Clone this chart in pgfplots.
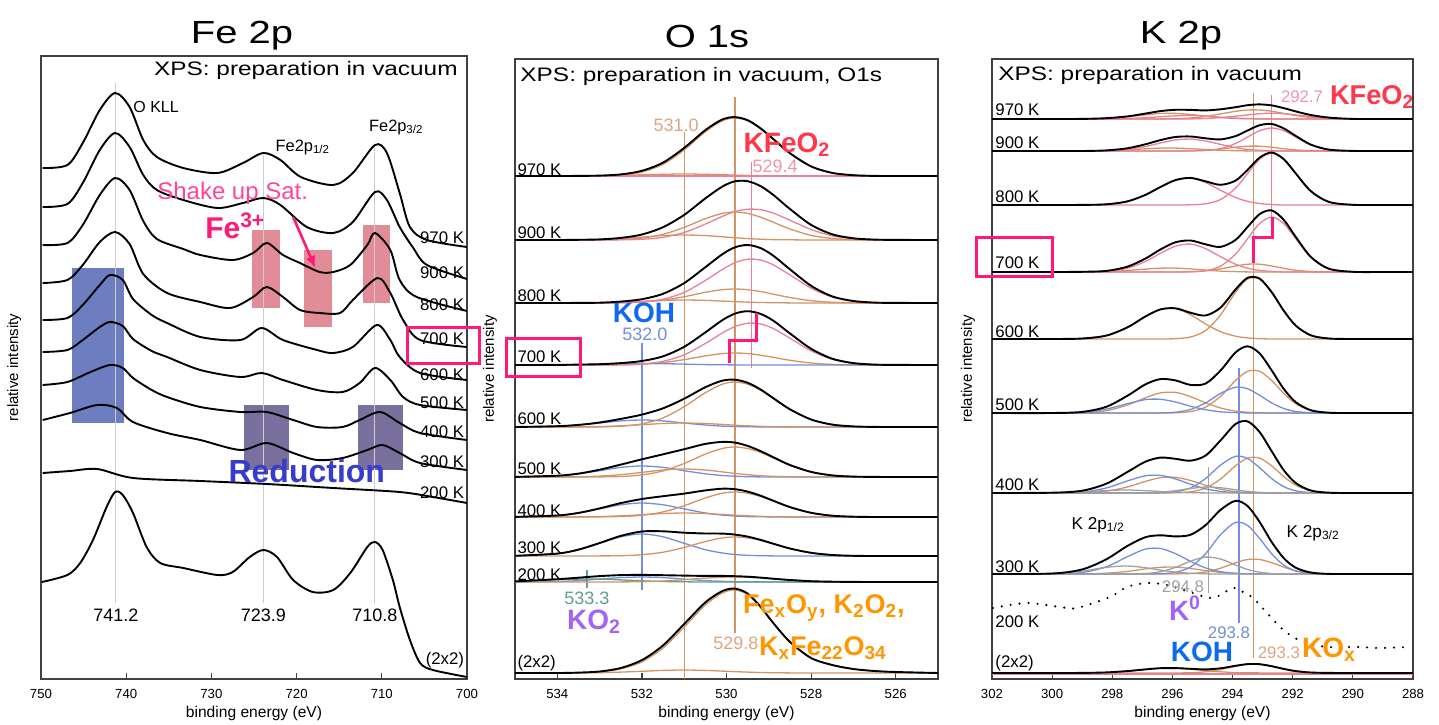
\documentclass[border=0pt]{standalone}
\usepackage{fontspec}
\setmainfont{Liberation Sans}
\usepackage{graphicx}
\usepackage{pgfplots}
\usepackage{pgfplotstable}
\pgfplotsset{compat=1.18}
\usetikzlibrary{arrows.meta}

\definecolor{tanc}{RGB}{210,148,102}
\definecolor{pinkc}{RGB}{234,128,148}
\definecolor{bluec}{RGB}{112,142,220}
\definecolor{grayc}{RGB}{160,160,160}
\definecolor{tealc}{RGB}{95,160,140}
\definecolor{vgray}{RGB}{205,205,205}
\definecolor{mag}{RGB}{255,25,120}
\definecolor{shake}{RGB}{255,70,150}
\definecolor{redt}{RGB}{255,55,75}
\definecolor{bluet}{RGB}{15,105,240}
\definecolor{purplet}{RGB}{160,100,250}
\definecolor{orangt}{RGB}{255,150,0}
\definecolor{redu}{RGB}{55,60,205}
\definecolor{boxpink}{RGB}{226,140,152}
\definecolor{boxblue}{RGB}{108,126,192}
\definecolor{boxpurp}{RGB}{122,112,158}
\definecolor{tanlab}{RGB}{220,165,130}
\definecolor{pinklab}{RGB}{238,150,165}

\newcommand{\fs}[1]{\fontsize{#1}{#1}\selectfont}
\newcommand{\W}[1]{\scalebox{1.25}[1]{#1}}

\tikzset{L/.style={inner sep=0pt}, T/.style={inner sep=0pt, font=\fs{8.4}}}
\pgfplotsset{
  xps/.style={scale only axis, x dir=reverse, clip=false, anchor=center,
    ymin=0, ytick=\empty, xtick pos=bottom, xtick align=inside,
    major tick length=3pt,
    axis line style={black!75, line width=0.9pt},
    tick style={black!75, line width=0.6pt},
    x tick label style={font=\fs{6.6}, anchor=center, yshift=-7.5pt},
    /pgf/number format/assume math mode=true,
    /pgf/number format/1000 sep={},
    xlabel style={font=\fs{7.8}, at={(axis description cs:0.5,0)}, anchor=center, yshift=-17pt},
    ylabel style={font=\fs{7.5}, anchor=center},
  },
  tot/.style={smooth, black, line width=0.95pt},
  comp/.style={smooth, line width=0.65pt},
}

% ---------- O 1s tables ----------
\pgfplotstableread{
be T A B
525 503 503 503
526 503 503 503
526.5 503.1 503.1 503
527 503.8 503.8 503
527.5 506.1 506.1 503
528 512.6 512.6 503
528.5 525.8 525.7 503.1
528.9 540.2 540 503.2
529.2 550.8 550.5 503.3
529.5 558.8 558.2 503.6
529.8 561.9 561 503.9
530.1 559.5 558.2 504.3
530.5 548.9 547.2 504.7
531 531.1 529.1 505
531.5 516.4 514.7 504.7
532 508.2 507 504.2
532.5 504.6 504 503.6
533 503.4 503.2 503.2
533.5 503.1 503 503.1
534 503 503 503
535 503 503 503
}\Oa
\pgfplotstableread{
be T A B C
525 439 439 439 439
526 439.1 439 439 439.1
526.5 439.4 439.1 439 439.3
527 440.7 439.4 439 440.3
527.5 444.7 440.5 439 443.2
528 454.1 443.6 439 449.5
528.5 470 450 439.2 458.8
528.9 484.3 456.9 439.4 466
529.2 493 461.9 439.8 469.3
529.5 497.8 465.6 440.4 469.8
529.8 497.7 467 441.3 467.4
530.1 492.4 465.6 442.2 462.6
530.5 480.6 460.3 443.4 454.9
531 464.1 451.6 444 446.5
531.5 451.8 444.7 443.4 441.7
532 444.5 440.9 441.9 439.7
532.5 441.1 439.5 440.4 439.2
533 439.6 439.1 439.5 439
533.5 439.2 439 439.2 439
534 439 439 439 439
535 439 439 439 439
}\Ob
\pgfplotstableread{
be T A B C
525 376 376 376 376
526 376.1 376 376 376.1
526.5 376.4 376 376 376.4
527 378 376.2 376 377.8
527.5 382.6 376.7 376 381.9
528 393.2 378.3 376 390.9
528.5 409.7 381.5 376.1 404.1
528.9 423.5 384.9 376.3 414.3
529.2 431 387.5 376.5 419
529.5 434 389.3 376.9 419.8
529.8 431.7 390 377.4 416.3
530.1 424.7 389.3 377.9 409.5
530.5 411.8 386.7 378.6 398.5
531 395.9 382.3 379 386.6
531.5 385.2 378.8 378.6 379.8
532 379.8 377 377.7 377.1
532.5 377.4 376.3 376.9 376.2
533 376.3 376 376.3 376
533.5 376.1 376 376.1 376
534 376 376 376 376
535 376 376 376 376
}\Oc
\pgfplotstableread{
be T A C D
525 314 314 314 314
526 314.1 314 314.1 314
526.5 314.4 314 314.4 314
527 315.9 314.2 315.7 314
527.5 320.3 314.6 319.7 314
528 330.2 316 328.2 314
528.5 345.6 318.7 340.8 314
528.9 358.5 321.7 350.6 314
529.2 365.2 323.8 355.1 314
529.5 367.8 325.4 355.8 314
529.8 365.4 326 352.4 314.1
530.1 358.8 325.4 346 314.2
530.5 346.6 323.1 335.5 314.4
531 332.2 319.4 324.2 314.9
531.5 322.7 316.4 317.7 315.3
532 318 314.8 315 315.5
532.5 315.9 314.2 314.2 315.3
533 314.8 314 314 314.9
533.5 314.4 314 314 314.4
534 314.1 314 314 314.2
535 314 314 314 314
}\Od
\pgfplotstableread{
be T A B D
525 252 252 252 252
526 252 252 252 252
526.5 252.1 252.1 252 252
527 252.6 252.6 252 252
527.5 254.4 254.4 252 252
528 259.5 259.5 252 252
528.5 269.7 269.6 252.1 252
528.9 281 280.7 252.3 252
529.2 289.7 288.9 252.7 252.1
529.5 296.2 294.8 253.2 252.2
529.8 299.3 297 253.8 252.5
530.1 298.3 294.8 254.6 252.9
530.5 291.8 286.3 255.5 254
531 280.3 272.3 256 256
531.5 270.7 261.1 255.5 258.1
532 264.4 255.1 254.3 259
532.5 260.1 252.8 253.2 258.1
533 256.5 252.1 252.4 256
533.5 254.1 252 252.1 254
534 252.8 252 252 252.8
535 252 252 252 252
}\Oe
\pgfplotstableread{
be T A B D
525 202 202 202 202
526 202 202 202 202
526.5 202.1 202.1 202 202
527 202.4 202.4 202 202
527.5 203.6 203.6 202 202
528 207.1 207 202.1 202
528.5 214 213.8 202.2 202
528.9 221.9 221.1 202.7 202.1
529.2 228 226.6 203.3 202.1
529.5 233.1 230.5 204.3 202.3
529.8 236.4 232 205.6 202.8
530.1 237.1 230.5 207.1 203.5
530.5 235.1 224.9 209 205.2
531 229.8 215.5 210 208.3
531.5 224.7 208.1 209 211.6
532 219.7 204.1 206.6 213
532.5 214.4 202.5 204.3 211.6
533 209.3 202.1 202.9 208.3
533.5 205.4 202 202.2 205.2
534 203.3 202 202.1 203.2
535 202.1 202 202 202.1
}\Of
\pgfplotstableread{
be T A B D
525 162 162 162 162
526 162 162 162 162
526.5 162 162 162 162
527 162.3 162.3 162 162
527.5 163.3 163.3 162 162
528 166.2 166.2 162 162
528.5 171.9 171.8 162.1 162
528.9 178.4 178 162.3 162.1
529.2 183.4 182.5 162.7 162.2
529.5 187.4 185.8 163.2 162.4
529.8 189.8 187 163.8 163
530.1 190.3 185.8 164.6 163.9
530.5 188.6 181.1 165.5 166
531 185.4 173.3 166 170.1
531.5 182.8 167.1 165.5 174.2
532 180 163.7 164.3 176
532.5 175.9 162.5 163.2 174.2
533 170.6 162.1 162.4 170.1
533.5 166.1 162 162.1 166
534 163.5 162 162 163.5
535 162.1 162 162 162.1
}\Og
\pgfplotstableread{
be T A D
525 123 123 123
526 123 123 123
526.5 123 123 123
527 123.2 123.2 123
527.5 124 124 123
528 126.2 126.2 123
528.5 130.5 130.4 123
528.9 135.4 135.1 123.1
529.2 139.2 138.6 123.3
529.5 142.4 141.1 123.7
529.8 144.4 142 124.5
530.1 145.4 141.1 126
530.5 145.5 137.5 129.3
531 146.3 131.6 135.7
531.5 147.7 126.8 142.2
532 147.5 124.3 145
532.5 143.1 123.3 142.2
533 136 123.1 135.7
533.5 129.4 123 129.3
534 125.4 123 125.4
535 123.2 123 123.2
}\Oh
\pgfplotstableread{
be T A D Q
525 97 97 97 97
526 97 97 97 97
526.5 97 97 97 97
527 97.1 97.1 97 97
527.5 97.3 97.3 97 97
528 97.8 97.8 97 97
528.5 99 99 97 97
528.9 100.3 100.2 97 97
529.2 101.4 101.1 97.1 97
529.5 102.3 101.8 97.2 97
529.8 102.8 102 97.3 97
530.1 103.1 101.8 97.7 97
530.5 103.1 100.8 98.4 97
531 103.4 99.3 99.9 97.2
531.5 103.8 98 101.4 97.5
532 104.1 97.3 102 98.2
532.5 103.9 97.1 101.4 99.1
533 102.9 97 99.9 99.9
533.5 101.3 97 98.4 99.9
534 99.8 97 97.5 99.3
535 97.6 97 97 97.6
}\Oi
\pgfplotstableread{
be T A B
525 6 6 6
526 7 7 6
526.5 8 8 6
527 10 10 6
527.5 14 14 6
528 21 21 6
528.5 37.1 37 6.1
528.9 56.3 56 6.3
529.2 72.5 72 6.5
529.5 85.4 84.5 6.9
529.8 90.4 89 7.35
530.1 87.9 86 7.9
530.5 76.6 74 8.6
531 55 52 9
531.5 33.6 31 8.6
532 18.9 17.2 7.7
532.5 11 10.1 6.9
533 7.5 7.2 6.3
533.5 6.4 6.3 6.1
534 6 6 6
535 6 6 6
}\Oj

% ---------- K 2p tables ----------
\pgfplotstableread{
be T T3 P3 T1 P1
288 560 560 560 560 560
289 560 560 560 560 560
290 560.1 560 560.1 560 560
290.8 561.4 560.5 560.9 560 560
291.4 564 561.5 562.5 560 560
291.9 567.6 563.5 564.1 560 560
292.3 570.9 565.6 565.3 560 560
292.7 573.6 567.7 565.8 560 560.1
293.1 574.6 569 565.3 560.1 560.2
293.5 573.8 569 564.1 560.2 560.5
293.9 571.8 567.7 562.8 560.5 560.9
294.4 569.7 565.1 561.4 561.4 561.8
294.9 568.6 562.5 560.5 562.8 562.9
295.4 569.1 561 560.1 564.5 563.5
295.9 569.2 560.3 560 565.6 563.2
296.4 567.9 560.1 560 565.5 562.3
296.9 565.4 560 560 564.1 561.3
297.5 562.6 560 560 562.2 560.5
298.2 560.8 560 560 560.7 560.1
299 560.1 560 560 560.1 560
300 560 560 560 560 560
302 560 560 560 560 560
}\Ka
\pgfplotstableread{
be T P3 P1 T3 T1
288 528 528 528 528 528
289 528 528 528 528 528
290 528.1 528.1 528 528 528
290.8 529.4 529.4 528 528 528
291.4 534.4 534.1 528 528.3 528
291.9 543.1 542 528 529.1 528
292.3 550.6 548.3 528 530.3 528
292.7 555 551 528.2 531.8 528
293.1 553.8 548.3 528.7 532.8 528
293.5 548.5 542 529.6 532.8 528.1
293.9 542.9 535.5 531.3 531.8 528.3
294.4 539.6 530.4 534.6 529.9 528.7
294.9 540.7 528.5 538 528.7 529.5
295.4 542.5 528.1 539.9 528.2 530.3
295.9 542 528 539.1 528 530.9
296.4 538.9 528 536 528 530.9
296.9 534.7 528 532.5 528 530.2
297.5 530.7 528 529.6 528 529.1
298.2 528.6 528 528.3 528 528.3
299 528 528 528 528 528
300 528 528 528 528 528
302 528 528 528 528 528
}\Kb
\pgfplotstableread{
be T P3 P1
288 474 474 474
289 474 474 474
290 474.2 474.2 474
290.8 477.1 477.1 474
291.4 487.9 487.9 474
291.9 505.6 505.6 474
292.3 519.9 519.9 474
292.7 526.5 526 474.5
293.1 521.4 519.9 475.5
293.5 509.2 505.6 477.6
293.9 498.4 490.9 481.5
294.4 494.2 479.5 488.7
294.9 497.7 475.2 496.5
295.4 501.1 474.2 500.9
295.9 498.9 474 498.9
296.4 492 474 492
296.9 484.1 474 484.1
297.5 477.6 474 477.6
298.2 474.7 474 474.7
299 474.1 474 474.1
300 474 474 474
302 474 474 474
}\Kc
\pgfplotstableread{
be T P3 P1 T3 T1
288 407 407 407 407 407
289 407 407 407 407 407
290 407.2 407.2 407 407 407
290.8 410.3 410.2 407 407.1 407
291.4 422.2 421.7 407 407.5 407
291.9 442.1 440.4 407 408.7 407
292.3 459.2 455.5 407 410.7 407
292.7 468.6 462 407.6 413 407
293.1 464.9 455.5 408.6 414.8 407
293.5 452.1 440.4 410.8 414.8 407.1
293.9 439.1 424.9 414.8 413 407.4
294.4 432.1 412.8 422.3 410.1 407.9
294.9 434.7 408.3 430.4 408.1 408.9
295.4 438.5 407.2 434.9 407.3 410.1
295.9 436.7 407 432.8 407 410.9
296.4 429.5 407 425.7 407 410.8
296.9 420.4 407 417.5 407 409.9
297.5 412.3 407 410.8 407 408.5
298.2 408.1 407 407.7 407 407.4
299 407.2 407 407.1 407 407.1
300 407 407 407 407 407
302 407 407 407 407 407
}\Kd
\pgfplotstableread{
be T T3 T1
288 340 340 340
289 340 340 340
290 340 340 340
290.8 340.5 340.5 340
291.4 343.7 343.7 340
291.9 353.4 353.4 340
292.3 368.4 368.4 340
292.7 386.8 386.8 340
293.1 400.4 400.1 340.3
293.5 401.2 400.1 341.1
293.9 389.6 386.8 342.8
294.4 371.4 364.1 347.3
294.9 363.5 348.4 355.1
295.4 366.3 342 364.3
295.9 370.7 340.3 370.4
296.4 369.6 340 369.6
296.9 362.5 340 362.5
297.5 351.6 340 351.6
298.2 343.4 340 343.4
299 340.5 340 340.5
300 340 340 340
302 340 340 340
}\Ke
\pgfplotstableread{
be T T3 B3 T1 B1
288 266 266 266 266 266
289 266 266 266 266 266
290 266 266 266 266 266
290.8 266.3 266.3 266 266 266
291.4 268.8 268.5 266.3 266 266
291.9 276.8 275.3 267.5 266 266
292.3 290.2 285.7 270.5 266 266
292.7 308.6 298.5 276.1 266 266
293.1 325.6 307.7 283.7 266.2 266
293.5 332.7 307.7 290.2 266.7 266.1
293.9 326.6 298.5 291.8 267.9 266.4
294.4 308.5 282.7 285.6 271 267.2
294.9 295.4 271.8 276.1 276.2 269.3
295.4 294.1 267.4 269.5 282.4 272.8
295.9 298.6 266.2 266.8 286.6 277
296.4 299.9 266 266.1 286.1 279.7
296.9 294.6 266 266 281.2 279.4
297.5 283.2 266 266 273.9 275.3
298.2 272.2 266 266 268.3 269.9
299 267.1 266 266 266.3 266.8
300 266 266 266 266 266
302 266 266 266 266 266
}\Kf
\pgfplotstableread{
be T B3 T3 B1 T1 G3 G1
288 186 186 186 186 186 186 186
289 186 186 186 186 186 186 186
290 186 186 186 186 186 186 186
290.8 186.3 186 186.3 186 186 186 186
291.4 188.5 186.4 188.1 186 186 186 186
291.9 196 188.2 193.8 186 186 186 186
292.3 208.9 192.4 202.5 186 186 186 186
292.7 227.8 200.4 213.2 186 186 186.2 186
293.1 246.9 211.2 220.9 186 186.2 186.6 186
293.5 257.6 220.5 220.9 186.1 186.5 187.6 186
293.9 255 222.7 213.2 186.5 187.4 189.2 186
294.4 238.6 213.9 200 187.6 189.8 191.3 186
294.9 223.4 200.4 190.9 190.2 193.8 192 186.1
295.4 218.3 191 187.2 194.8 198.5 190.5 186.3
295.9 220.2 187.2 186.2 200.1 201.7 188.3 186.7
296.4 221.4 186.2 186 203.6 201.3 186.8 187.5
296.9 217.3 186 186 203.2 197.6 186.2 188.3
297.5 207 186 186 198 192 186 189
298.2 195.3 186 186 191 187.8 186 188.5
299 188.3 186 186 187 186.2 186 187.1
300 186.3 186 186 186.1 186 186 186.2
302 186 186 186 186 186 186 186
}\Kg
\pgfplotstableread{
be T B3 T3 G3 B1 T1 G1
288 105 105 105 105 105 105 105
289 105 105 105 105 105 105 105
290 105 105 105 105 105 105 105
290.8 105.1 105 105.1 105 105 105 105
291.4 106.5 105.6 105.9 105 105 105 105
291.9 111.3 108.1 108.2 105 105 105 105
292.3 120.9 113.9 111.9 105.1 105 105 105
292.7 137 125.2 116.3 105.5 105 105 105
293.1 157 140.5 119.5 106.8 105.1 105.1 105
293.5 172.9 153.5 119.5 109.5 105.2 105.2 105
293.9 178.2 156.6 116.3 114 105.7 105.6 105
294.4 169.1 144.3 110.8 120 107.3 106.7 105
294.9 153.8 125.2 107 121.9 111.1 108.4 105.2
295.4 144.2 112 105.5 117.8 117.7 110.5 105.7
295.9 142.6 106.7 105.1 111.6 125.4 111.9 106.9
296.4 143.7 105.3 105 107.3 130.5 111.7 108.9
296.9 141.8 105 105 105.5 129.9 110.1 111.3
297.5 133 105 105 105.1 122.3 107.6 113
298.2 119.7 105 105 105 112.2 105.8 111.7
299 109.6 105 105 105 106.5 105.1 108
300 105.5 105 105 105 105.1 105 105.4
302 105 105 105 105 105 105 105
}\Kh
\pgfplotstableread{
be T T3 T1
288 6 6 6
289 6 6 6
290 6 6 6
290.8 6.1 6.1 6
291.4 6.5 6.5 6
291.9 7.9 7.9 6
292.3 10.1 10.1 6
292.7 12.8 12.8 6
293.1 14.8 14.7 6.1
293.5 14.9 14.7 6.2
293.9 13.2 12.8 6.4
294.4 10.7 9.5 7.2
294.9 9.6 7.2 8.4
295.4 10.2 6.3 9.9
295.9 10.9 6 10.9
296.4 10.8 6 10.8
296.9 9.6 6 9.6
297.5 7.9 6 7.9
298.2 6.6 6 6.6
299 6.1 6 6.1
300 6 6 6
302 6 6 6
}\Kj

\begin{document}
\begin{tikzpicture}[x=0.5pt,y=0.5pt]
\path[use as bounding box] (0,0) rectangle (1439,724);

% titles
\node[L,font=\fs{16}] at (242,688) {\W{Fe 2p}};
\node[L,font=\fs{16}] at (707,688) {\W{O 1s}};
\node[L,font=\fs{16}] at (1181,688) {\W{K 2p}};

% ================= Fe 2p =================
\begin{axis}[xps, at={(127pt,178.25pt)}, width=213pt, height=311.5pt,
  xmin=700, xmax=750, ymax=623, xtick={700,710,720,730,740,750},
  xlabel={binding energy (eV)}, ylabel={relative intensity},
  ylabel style={at={(axis description cs:-0.063,0.5)}}]
\fill[boxblue] (axis cs:746.4,411) rectangle (axis cs:740.3,256);
\fill[boxpink] (axis cs:725.2,449) rectangle (axis cs:721.95,371);
\fill[boxpink] (axis cs:719.1,429) rectangle (axis cs:715.8,352);
\fill[boxpink] (axis cs:712.2,454) rectangle (axis cs:709.0,376);
\fill[boxpurp] (axis cs:726.2,274) rectangle (axis cs:720.9,209);
\fill[boxpurp] (axis cs:712.8,274) rectangle (axis cs:707.5,209);
\draw[vgray, line width=0.5pt] (axis cs:741.2,76) -- (axis cs:741.2,596);
\draw[vgray, line width=0.5pt] (axis cs:723.9,76) -- (axis cs:723.9,524);
\draw[vgray, line width=0.5pt] (axis cs:710.8,76) -- (axis cs:710.8,532);

\addplot[tot] coordinates {(749.8,511) (746.9,514) (745.1,536) (743.1,569) (741.3,586) (739.6,572) (738.0,539) (736.4,522) (733.3,511) (729.3,506) (726.3,516) (723.9,526) (721.9,519) (719.5,502) (715.7,494) (713.4,506) (710.8,534) (709.4,526) (707.9,486) (706.7,452) (704.7,439) (700.0,432)};
\addplot[tot] coordinates {(749.8,472) (746.9,475) (745.1,496) (743.1,529) (741.3,546) (739.6,532) (738.0,504) (736.4,489) (733.3,479) (729.3,471) (726.3,476) (723.9,481) (721.9,474) (718.8,452) (715.7,446) (713.4,457) (710.8,487) (709.4,479) (707.9,452) (706.3,431) (704.7,414) (700.0,400)};
\addplot[tot] coordinates {(749.8,434) (746.9,436) (745.1,454) (743.1,484) (741.3,501) (739.6,489) (738.0,458) (736.4,440) (733.3,430) (731.3,424) (727.5,419) (725.1,426) (723.5,436) (721.6,424) (719.6,416) (717.3,407) (715.7,407) (713.7,414) (711.7,434) (710.8,446) (709.0,429) (707.9,399) (705.9,382) (700.0,368)};
\addplot[tot] coordinates {(749.8,396) (746.9,399) (745.1,414) (743.1,437) (741.3,447) (739.6,435) (738.0,405) (735.2,386) (731.3,377) (727.8,371) (725.1,382) (723.5,392) (721.6,382) (719.6,369) (717.3,366) (714.9,366) (713.4,379) (710.5,401) (709.0,386) (707.5,359) (705.5,339) (700.0,332)};
\addplot[tot] coordinates {(749.8,359) (746.9,361) (745.1,374) (743.1,394) (741.9,404) (740.4,399) (739.2,380) (737.0,364) (735.2,356) (731.3,342) (726.6,339) (724.1,351) (721.6,339) (717.6,329) (715.7,326) (713.4,332) (710.6,354) (709.0,339) (707.9,322) (705.5,306) (700.0,299)};
\addplot[tot] coordinates {(749.8,327) (746.9,329) (745.1,339) (743.1,352) (741.9,357) (740.4,353) (739.2,340) (737.0,328) (735.2,322) (731.3,309) (726.6,302) (724.1,306) (721.6,299) (717.6,289) (714.6,287) (712.6,296) (710.8,311) (709.0,299) (707.5,282) (705.5,274) (700.0,269)};
\addplot[tot] coordinates {(749.8,294) (746.9,297) (744.2,307) (741.9,314) (740.4,311) (739.2,301) (737.0,289) (735.2,282) (731.3,272) (726.6,267) (723.5,267) (720.4,259) (717.6,252) (714.6,252) (712.6,259) (710.2,267) (707.9,256) (705.5,246) (700.0,239)};
\addplot[tot] coordinates {(749.8,259) (746.6,266) (743.4,274) (741.1,271) (739.2,257) (735.2,246) (731.3,239) (726.6,229) (723.5,236) (720.4,226) (717.6,219) (714.6,221) (711.7,229) (709.9,234) (707.9,226) (705.5,216) (700.0,209)};
\addplot[tot] coordinates {(749.8,206) (746.6,208) (743.4,210) (739.2,201) (731.3,198) (723.5,195) (715.7,191) (707.9,187) (704.0,182) (700.0,176)};
\addplot[tot] coordinates {(749.9,97) (746.9,104) (745.4,116) (743.9,139) (742.3,172) (741.3,187) (740.4,184) (739.2,166) (737.6,132) (736.0,116) (733.3,111) (729.3,104) (727.5,107) (725.5,122) (723.9,129) (722.3,122) (720.4,99) (718.1,87) (715.7,89) (713.7,106) (711.7,132) (710.8,137) (709.9,129) (708.7,99) (707.9,72) (706.7,39) (705.5,16) (704.0,9) (700.0,2)};

\node[L,font=\fs{9.75},anchor=east] at (axis cs:701.05,609) {\W{XPS: preparation in vacuum}};
\node[L,font=\fs{8},anchor=west] at (axis cs:739.2,572) {O KLL};
\node[L,font=\fs{8.2},anchor=west] at (axis cs:722.5,532) {Fe2p\textsubscript{1/2}};
\node[L,font=\fs{8.2}] at (axis cs:708.3,552) {Fe2p\textsubscript{3/2}};
\node[L,font=\fs{12},text=shake] at (axis cs:727.5,486) {Shake up Sat.};
\node[L,font=\bfseries\fs{15},text=mag] at (axis cs:727.2,453) {Fe\textsuperscript{3+}};
\draw[mag, line width=1.3pt, -{Latex[length=6pt,width=5pt]}] (axis cs:720.4,462) -- (axis cs:717.8,411);
\node[L,font=\bfseries\fs{16},text=redu] at (axis cs:718.8,208) {Reduction};
\node[T,anchor=east] at (axis cs:700.3,441) {970 K};
\node[T,anchor=east] at (axis cs:700.3,406) {900 K};
\node[T,anchor=east] at (axis cs:700.3,374) {800 K};
\node[T,anchor=east] at (axis cs:700.3,340) {700 K};
\node[T,anchor=east] at (axis cs:700.3,304) {600 K};
\node[T,anchor=east] at (axis cs:700.3,276) {500 K};
\node[T,anchor=east] at (axis cs:700.3,247) {400 K};
\node[T,anchor=east] at (axis cs:700.3,217) {300 K};
\node[T,anchor=east] at (axis cs:700.3,186) {200 K};
\node[T,anchor=east] at (axis cs:700.3,19) {(2x2)};
\draw[mag, line width=1.5pt] (axis cs:707,352) rectangle (axis cs:698.5,316);
\node[L,font=\fs{9}] at (axis cs:741.2,64) {741.2};
\node[L,font=\fs{9}] at (axis cs:723.9,64) {723.9};
\node[L,font=\fs{9}] at (axis cs:710.8,64) {710.8};
\end{axis}

% ================= O 1s =================
\begin{axis}[xps, at={(363.25pt,177.5pt)}, width=211.5pt, height=310pt,
  xmin=525, xmax=535, ymax=620, xtick={526,528,530,532,534},
  xlabel={binding energy (eV)}, ylabel={relative intensity},
  ylabel style={at={(axis description cs:-0.059,0.5)}}]
\draw[tanc, line width=0.7pt] (axis cs:531.0,0) -- (axis cs:531.0,547);
\draw[tanc, line width=0.7pt] (axis cs:529.8,46) -- (axis cs:529.8,582);
\draw[pinkc, line width=0.6pt] (axis cs:529.4,311) -- (axis cs:529.4,517);
\draw[bluec, line width=0.7pt] (axis cs:532.0,89) -- (axis cs:532.0,336);
\draw[tealc, line width=0.7pt] (axis cs:533.3,91) -- (axis cs:533.3,109);

% 970 K
\addplot[comp,tanc] table[x=be,y=B] {\Oa};
\addplot[comp,tanc] table[x=be,y=A] {\Oa};
\addplot[pinkc, line width=0.65pt] coordinates {(525,503) (535,503)};
\addplot[tot] table[x=be,y=T] {\Oa};
% 900 K
\addplot[comp,tanc] table[x=be,y=B] {\Ob};
\addplot[comp,tanc] table[x=be,y=A] {\Ob};
\addplot[comp,pinkc] table[x=be,y=C] {\Ob};
\addplot[tot] table[x=be,y=T] {\Ob};
% 800 K
\addplot[comp,tanc] table[x=be,y=B] {\Oc};
\addplot[comp,tanc] table[x=be,y=A] {\Oc};
\addplot[comp,pinkc] table[x=be,y=C] {\Oc};
\addplot[tot] table[x=be,y=T] {\Oc};
% 700 K
\addplot[comp,tanc] table[x=be,y=A] {\Od};
\addplot[comp,bluec] table[x=be,y=D] {\Od};
\addplot[comp,pinkc] table[x=be,y=C] {\Od};
\addplot[tot] table[x=be,y=T] {\Od};
% 600 K
\addplot[comp,bluec] table[x=be,y=D] {\Oe};
\addplot[comp,tanc] table[x=be,y=B] {\Oe};
\addplot[comp,tanc] table[x=be,y=A] {\Oe};
\addplot[tot] table[x=be,y=T] {\Oe};
% 500 K
\addplot[comp,bluec] table[x=be,y=D] {\Of};
\addplot[comp,tanc] table[x=be,y=B] {\Of};
\addplot[comp,tanc] table[x=be,y=A] {\Of};
\addplot[tot] table[x=be,y=T] {\Of};
% 400 K
\addplot[comp,bluec] table[x=be,y=D] {\Og};
\addplot[comp,tanc] table[x=be,y=B] {\Og};
\addplot[comp,tanc] table[x=be,y=A] {\Og};
\addplot[tot] table[x=be,y=T] {\Og};
% 300 K
\addplot[comp,bluec] table[x=be,y=D] {\Oh};
\addplot[comp,tanc] table[x=be,y=A] {\Oh};
\addplot[tot] table[x=be,y=T] {\Oh};
% 200 K
\addplot[comp,bluec] table[x=be,y=D] {\Oi};
\addplot[comp,tealc] table[x=be,y=Q] {\Oi};
\addplot[comp,tanc] table[x=be,y=A] {\Oi};
\addplot[tot] table[x=be,y=T] {\Oi};
% (2x2)
\addplot[comp,tanc] table[x=be,y=B] {\Oj};
\addplot[comp,tanc] table[x=be,y=A] {\Oj};
\addplot[tot] table[x=be,y=T] {\Oj};

\node[L,font=\fs{9.75},anchor=west] at (axis cs:534.88,603) {\W{XPS: preparation in vacuum, O1s}};
\node[T,anchor=west] at (axis cs:534.95,509) {970 K};
\node[T,anchor=west] at (axis cs:534.95,446) {900 K};
\node[T,anchor=west] at (axis cs:534.95,383) {800 K};
\node[T,anchor=west] at (axis cs:534.95,322) {700 K};
\node[T,anchor=west] at (axis cs:534.95,260) {600 K};
\node[T,anchor=west] at (axis cs:534.95,210) {500 K};
\node[T,anchor=west] at (axis cs:534.95,168) {400 K};
\node[T,anchor=west] at (axis cs:534.95,131) {300 K};
\node[T,anchor=west] at (axis cs:534.95,104) {200 K};
\node[T,anchor=west] at (axis cs:534.95,16) {(2x2)};
\node[L,font=\fs{9},text=tanlab] at (axis cs:531.19,554) {531.0};
\node[L,font=\bfseries\fs{14},text=redt] at (axis cs:528.57,534) {KFeO\textsubscript{2}};
\node[L,font=\fs{9},text=pinklab] at (axis cs:528.85,513) {529.4};
\node[L,font=\bfseries\fs{14},text=bluet] at (axis cs:531.95,366) {KOH};
\node[L,font=\fs{9},text=bluec] at (axis cs:531.93,345) {532.0};
\node[L,font=\fs{9},text=tealc] at (axis cs:533.3,81) {533.3};
\node[L,font=\bfseries\fs{14},text=purplet] at (axis cs:533.13,57) {KO\textsubscript{2}};
\node[L,font=\bfseries\fs{13.5},text=orangt] at (axis cs:527.7,71) {Fe\textsubscript{x}O\textsubscript{y}, K\textsubscript{2}O\textsubscript{2},};
\node[L,font=\bfseries\fs{13.5},text=orangt] at (axis cs:527.72,31) {K\textsubscript{x}Fe\textsubscript{22}O\textsubscript{34}};
\node[L,font=\fs{9},text=tanlab] at (axis cs:529.78,36) {529.8};
\draw[mag, line width=1.5pt] (axis cs:535.2,341) rectangle (axis cs:533.45,303);
\draw[mag, line width=1.5pt] (axis cs:529.94,316) -- (axis cs:529.94,339) -- (axis cs:529.30,339) -- (axis cs:529.30,366);
\end{axis}

% ================= K 2p =================
\begin{axis}[xps, at={(601.25pt,177.5pt)}, width=210.5pt, height=310pt,
  xmin=288, xmax=302, ymax=620, xtick={288,290,292,294,296,298,300,302},
  xlabel={binding energy (eV)}, ylabel={relative intensity},
  ylabel style={at={(axis description cs:-0.057,0.5)}}]
\draw[pinkc, line width=0.6pt] (axis cs:292.7,440) -- (axis cs:292.7,584);
\draw[tanc, line width=0.7pt] (axis cs:293.3,21) -- (axis cs:293.3,586);
\draw[bluec, line width=1pt] (axis cs:293.8,56) -- (axis cs:293.8,311);
\draw[grayc, line width=0.7pt] (axis cs:294.8,86) -- (axis cs:294.8,212);

% 970 K
\addplot[comp,tanc] table[x=be,y=T3] {\Ka};
\addplot[comp,tanc] table[x=be,y=T1] {\Ka};
\addplot[comp,pinkc] table[x=be,y=P3] {\Ka};
\addplot[comp,pinkc] table[x=be,y=P1] {\Ka};
\addplot[tot] table[x=be,y=T] {\Ka};
% 900 K
\addplot[comp,tanc] table[x=be,y=T3] {\Kb};
\addplot[comp,tanc] table[x=be,y=T1] {\Kb};
\addplot[comp,pinkc] table[x=be,y=P3] {\Kb};
\addplot[comp,pinkc] table[x=be,y=P1] {\Kb};
\addplot[tot] table[x=be,y=T] {\Kb};
% 800 K
\addplot[comp,pinkc] table[x=be,y=P3] {\Kc};
\addplot[comp,pinkc] table[x=be,y=P1] {\Kc};
\addplot[tot] table[x=be,y=T] {\Kc};
% 700 K
\addplot[comp,tanc] table[x=be,y=T3] {\Kd};
\addplot[comp,tanc] table[x=be,y=T1] {\Kd};
\addplot[comp,pinkc] table[x=be,y=P3] {\Kd};
\addplot[comp,pinkc] table[x=be,y=P1] {\Kd};
\addplot[tot] table[x=be,y=T] {\Kd};
% 600 K
\addplot[comp,tanc] table[x=be,y=T3] {\Ke};
\addplot[comp,tanc] table[x=be,y=T1] {\Ke};
\addplot[tot] table[x=be,y=T] {\Ke};
% 500 K
\addplot[comp,tanc] table[x=be,y=T3] {\Kf};
\addplot[comp,tanc] table[x=be,y=T1] {\Kf};
\addplot[comp,bluec] table[x=be,y=B3] {\Kf};
\addplot[comp,bluec] table[x=be,y=B1] {\Kf};
\addplot[tot] table[x=be,y=T] {\Kf};
% 400 K
\addplot[comp,tanc] table[x=be,y=T3] {\Kg};
\addplot[comp,tanc] table[x=be,y=T1] {\Kg};
\addplot[comp,bluec] table[x=be,y=B3] {\Kg};
\addplot[comp,bluec] table[x=be,y=B1] {\Kg};
\addplot[comp,grayc] table[x=be,y=G3] {\Kg};
\addplot[comp,grayc] table[x=be,y=G1] {\Kg};
\addplot[tot] table[x=be,y=T] {\Kg};
% 300 K
\addplot[comp,tanc] table[x=be,y=T3] {\Kh};
\addplot[comp,tanc] table[x=be,y=T1] {\Kh};
\addplot[comp,bluec] table[x=be,y=B3] {\Kh};
\addplot[comp,bluec] table[x=be,y=B1] {\Kh};
\addplot[comp,grayc] table[x=be,y=G3] {\Kh};
\addplot[comp,grayc] table[x=be,y=G1] {\Kh};
\addplot[tot] table[x=be,y=T] {\Kh};
% 200 K (data points only)
\addplot[smooth, black, line width=1.2pt, line cap=round, dash pattern=on 0pt off 4.5pt] coordinates {(301.97,71) (300.84,76) (299.74,72) (299.17,71) (298.08,82) (297.51,92) (296.85,96) (296.18,94) (295.32,86) (294.65,81) (293.99,91) (293.65,87) (293.32,81) (292.85,66) (292.42,52) (291.99,42) (291.52,36) (290.86,32) (289.76,32) (289.2,31) (288.1,32)};
% (2x2)
\addplot[comp,tanc] table[x=be,y=T3] {\Kj};
\addplot[comp,tanc] table[x=be,y=T1] {\Kj};
\addplot[pinkc, line width=0.8pt] coordinates {(288,5) (302,5)};
\addplot[tot] table[x=be,y=T] {\Kj};

\node[L,font=\fs{9.75},anchor=west] at (axis cs:301.8,604) {\W{XPS: preparation in vacuum}};
\node[T,anchor=west] at (axis cs:301.9,569) {970 K};
\node[T,anchor=west] at (axis cs:301.9,536) {900 K};
\node[T,anchor=west] at (axis cs:301.9,482) {800 K};
\node[T,anchor=west] at (axis cs:301.9,416) {700 K};
\node[T,anchor=west] at (axis cs:301.9,347) {600 K};
\node[T,anchor=west] at (axis cs:301.9,274) {500 K};
\node[T,anchor=west] at (axis cs:301.9,194) {400 K};
\node[T,anchor=west] at (axis cs:301.9,112) {300 K};
\node[T,anchor=west] at (axis cs:301.9,57) {200 K};
\node[T,anchor=west] at (axis cs:301.9,16) {(2x2)};
\node[L,font=\fs{8.4},text=pinklab] at (axis cs:291.69,582) {292.7};
\node[L,font=\bfseries\fs{13.6},text=redt] at (axis cs:289.36,582) {KFeO\textsubscript{2}};
\node[L,font=\fs{8.6}] at (axis cs:298.47,154) {K 2p\textsubscript{1/2}};
\node[L,font=\fs{8.6}] at (axis cs:291.32,146) {K 2p\textsubscript{3/2}};
\node[L,font=\fs{8.4},text=grayc] at (axis cs:295.65,92) {294.8};
\node[L,font=\bfseries\fs{14},text=purplet] at (axis cs:295.58,71) {K\textsuperscript{0}};
\node[L,font=\fs{8.4},text=bluec] at (axis cs:294.12,46) {293.8};
\node[L,font=\bfseries\fs{14},text=bluet] at (axis cs:295.02,27) {KOH};
\node[L,font=\fs{8.4},text=tanlab] at (axis cs:292.46,26) {293.3};
\node[L,font=\bfseries\fs{14},text=orangt] at (axis cs:290.79,29) {KO\textsubscript{x}};
\draw[mag, line width=1.5pt] (axis cs:302.5,441) rectangle (axis cs:300.0,403);
\draw[mag, line width=1.5pt] (axis cs:293.32,416) -- (axis cs:293.32,441) -- (axis cs:292.66,441) -- (axis cs:292.66,462);
\end{axis}
\end{tikzpicture}
\end{document}
